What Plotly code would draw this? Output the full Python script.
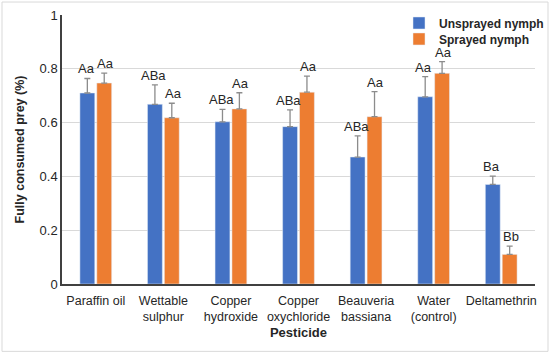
import plotly.graph_objects as go

categories = ["Paraffin oil", "Wettable<br>sulphur", "Copper<br>hydroxide", "Copper<br>oxychloride",
              "Beauveria<br>bassiana", "Water<br>(control)", "Deltamethrin"]
unsprayed = [0.710, 0.668, 0.603, 0.585, 0.472, 0.696, 0.370]
unsprayed_err = [0.054, 0.072, 0.046, 0.062, 0.079, 0.075, 0.031]
sprayed = [0.747, 0.618, 0.651, 0.713, 0.622, 0.783, 0.110]
sprayed_err = [0.037, 0.054, 0.060, 0.060, 0.093, 0.044, 0.031]
unsprayed_letters = ["Aa", "ABa", "ABa", "ABa", "ABa", "Aa", "Ba"]
sprayed_letters = ["Aa", "Aa", "Aa", "Aa", "Aa", "Aa", "Bb"]

BLUE = "#4472C4"
ORANGE = "#ED7D31"
FONT = "Liberation Sans, Arial, sans-serif"
TXT = "#262626"

W, H = 550, 354
l, r, t, b = 62, 15, 15, 69.5
pw, ph = W - l - r, H - t - b

fig = go.Figure()
fig.add_trace(go.Bar(
    x=categories, y=unsprayed, name="Unsprayed nymph", marker_color=BLUE, legend="legend",
    error_y=dict(type="data", symmetric=False, array=unsprayed_err,
                 arrayminus=[0] * len(unsprayed_err), color="#8c8c8c", thickness=1.3, width=3),
))
fig.add_trace(go.Bar(
    x=categories, y=sprayed, name="Sprayed nymph", marker_color=ORANGE, legend="legend2",
    error_y=dict(type="data", symmetric=False, array=sprayed_err,
                 arrayminus=[0] * len(sprayed_err), color="#8c8c8c", thickness=1.3, width=3),
))

# letters above error bars
for i, cat in enumerate(categories):
    for vals, errs, letters, shift in ((unsprayed, unsprayed_err, unsprayed_letters, -0.144),
                                       (sprayed, sprayed_err, sprayed_letters, 0.144)):
        fig.add_annotation(
            x=i + shift, y=vals[i] + errs[i], xref="x", yref="y",
            text=letters[i], showarrow=False, yanchor="bottom", yshift=0,
            font=dict(family=FONT, size=13, color=TXT),
        )

# outer frame
fig.add_shape(type="rect", xref="paper", yref="paper",
              x0=(2 - l) / pw, x1=(548 - l) / pw, y0=(H - 352 - b) / ph, y1=(H - 2 - b) / ph,
              line=dict(color="#d9d9d9", width=1), fillcolor="rgba(0,0,0,0)", layer="below")

legend_font = dict(family=FONT, size=12, color=TXT, weight="bold")
leg_x = (399 - l) / pw
fig.update_layout(
    width=W, height=H,
    margin=dict(l=l, r=r, t=t, b=b, autoexpand=False),
    paper_bgcolor="white", plot_bgcolor="white",
    barmode="group", bargap=0.5, bargroupgap=0.12,
    font=dict(family=FONT, size=13, color=TXT),
    showlegend=True,
    legend=dict(x=leg_x, xanchor="left", y=(H - b - 23) / ph, yanchor="middle",
                bgcolor="rgba(0,0,0,0)", font=legend_font, itemwidth=30),
    legend2=dict(x=leg_x, xanchor="left", y=(H - b - 39) / ph, yanchor="middle",
                 bgcolor="rgba(0,0,0,0)", font=legend_font, itemwidth=30),
    xaxis=dict(
        type="category", showline=True, linecolor="#404040", linewidth=1.5,
        ticks="", tickfont=dict(size=12.5), showgrid=False, automargin=False,
        ticklabelstandoff=4,
        title=dict(text="<b>Pesticide</b>", font=dict(size=13), standoff=5),
    ),
    yaxis=dict(
        range=[0, 1], tickvals=[0, 0.2, 0.4, 0.6, 0.8, 1], ticktext=["0", "0.2", "0.4", "0.6", "0.8", "1"],
        showline=True, linecolor="#404040", linewidth=1.5, gridcolor="#d9d9d9", gridwidth=1,
        ticks="", tickfont=dict(size=13), zeroline=False, automargin=False,
        title=dict(text="<b>Fully consumed prey (%)</b>", font=dict(size=12.5), standoff=12),
    ),
)

fig.write_html("out.html", config={"displayModeBar": False},
               post_script="document.body.style.margin='0';")
